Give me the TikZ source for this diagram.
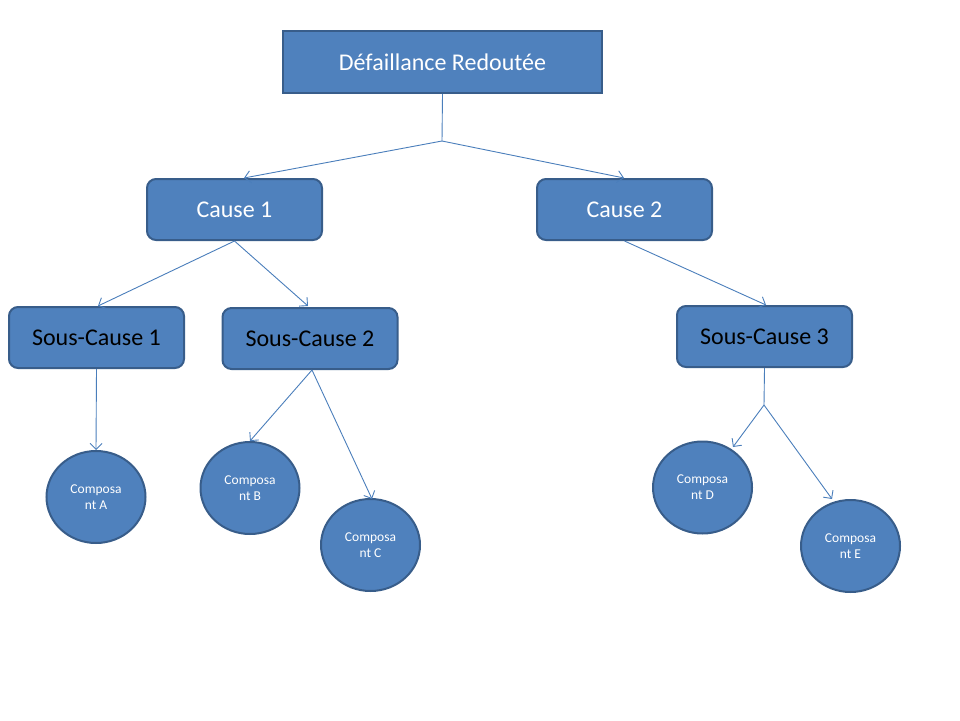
\documentclass[tikz,border=0pt]{standalone}
\usepackage{fontspec}
\setmainfont{Carlito}
\usetikzlibrary{arrows.meta,calc,shapes.geometric}
\definecolor{boxfill}{HTML}{4F81BD}
\definecolor{boxedge}{HTML}{385D8A}
\definecolor{linkcol}{HTML}{4A7EBB}
\tikzset{
  topbox/.style={draw=boxedge, fill=boxfill, line width=2pt, minimum width=319pt, minimum height=62pt, text=white, font=\fontsize{24}{28}\selectfont, inner sep=0pt},
  causebox/.style={draw=boxedge, fill=boxfill, line width=2pt, rounded corners=9pt, minimum width=175pt, minimum height=61pt, text=white, font=\fontsize{24}{28}\selectfont, inner sep=0pt},
  subbox/.style={causebox, text=black},
  compo/.style={draw=boxedge, fill=boxfill, line width=2pt, ellipse, minimum width=99pt, minimum height=92pt, text=white, font=\fontsize{13.5}{16}\selectfont, align=center, inner sep=0pt},
  link/.style={draw=linkcol, line width=0.9pt},
  arr/.style={link, -{Straight Barb[length=6pt,width=12pt,line width=0.9pt]}}
}
\begin{document}
\begin{tikzpicture}[x=1pt,y=-1pt]
\useasboundingbox (0,0) rectangle (960,720);
\node[topbox] (top) at (442.5,62) {\raisebox{-2pt}{Défaillance Redoutée}};
\node[causebox] (c1) at (234.5,209.5) {\raisebox{-2pt}{Cause 1}};
\node[causebox] (c2) at (624.5,209.5) {\raisebox{-2pt}{Cause 2}};
\node[subbox] (s1) at (96.5,337.5) {\raisebox{-1pt}{Sous-Cause 1}};
\node[subbox] (s2) at (310,338.5) {\raisebox{-1pt}{Sous-Cause 2}};
\node[subbox] (s3) at (764.5,336.5) {\raisebox{-1pt}{Sous-Cause 3}};
\node[compo] (a) at (96,497) {Composa\\nt A};
\node[compo] (b) at (250,488) {Composa\\nt B};
\node[compo] (c) at (370.5,545) {Composa\\nt C};
\node[compo] (d) at (702.5,487.5) {Composa\\nt D};
\node[compo] (e) at (850.5,546) {Composa\\nt E};
\coordinate (j1) at (442,141);
\coordinate (j3) at (764,405);
\draw[link] (top.south) -- (j1);
\draw[arr] (j1) -- (244,178);
\draw[arr] (j1) -- (624,178);
\draw[arr] (c1.south) -- (98,306);
\draw[arr] (c1.south) -- (308,306);
\draw[arr] (c2.south) -- (766,305);
\draw[arr] (s1.south) -- (96,450);
\draw[arr] ($(s2.south)+(2,0)$) -- (250,441);
\draw[arr] ($(s2.south)+(2,0)$) -- (372,499);
\draw[link] (s3.south) -- (j3);
\draw[arr] (j3) -- (733,447);
\draw[arr] (j3) -- (832,499);
\end{tikzpicture}
\end{document}
